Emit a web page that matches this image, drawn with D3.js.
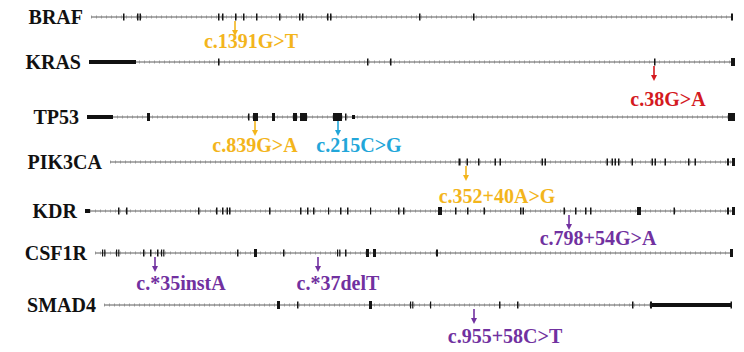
<!DOCTYPE html>
<html>
<head>
<meta charset="utf-8">
<script src="https://cdn.jsdelivr.net/npm/d3@7"></script>
<style>
  html, body { margin: 0; padding: 0; background: #fff; }
  svg { display: block; }
</style>
</head>
<body>
<div id="chart"></div>
<script>
// Gene structures on a shared track coordinate (0–650 units along each row).
const genes = ["BRAF", "KRAS", "TP53", "PIK3CA", "KDR", "CSF1R", "SMAD4"];

// intron backbone extent for each gene
const spans = {
  BRAF:   [6, 648],
  KRAS:   [4, 650],
  TP53:   [2, 650],
  PIK3CA: [25, 650],
  KDR:    [0, 648],
  CSF1R:  [10, 647],
  SMAD4:  [19, 647]
};

// coding exons [start, end]
const exons = {
  BRAF: [[38,39.5],[52,53.5],[54.5,56],[133,134.5],[137,138.5],[150,151.5],[158,159.5],
         [171,172.5],[194,195.5],[214,215.5],[217,218.5],[242,243.5],[245,246.5],
         [334,335.5],[388,389.5],[646,648]],
  KRAS: [[133,134.5],[282,283.5],[305,306.5],[569,570.5],[646,650]],
  TP53: [[62,65],[163,164.5],[168,173],[187,190],[208,212],[215,222],[248,257],
         [260,261.5],[643,650]],
  PIK3CA: [[373.5,375.5],[381.5,383],[393,394.5],[409.5,411],[414.5,416],[456.5,458],
           [459.5,461],[521.5,523],[526.5,528],[529.5,531],[533,534.5],[546.5,548],
           [566.5,568],[569.5,571],[579.5,581],[603,604.5],[609.5,611],[642,644],[647,650]],
  KDR: [[33,34.5],[41,42.5],[113,114.5],[131,132.5],[137,138.5],[141.5,143],[144,145.5],
        [184,185.5],[215,216.5],[222,223.5],[228,229.5],[243,244],[255,256.5],[262,263.5],
        [285,286],[313,314.5],[318,319.5],[353,357],[370,371.5],[382,383.5],[398.5,400],
        [435,436.5],[437.5,439],[478.5,480],[490,491.5],[500,501.5],[505,506.5],
        [552,556],[588.5,590],[642,644],[647,650]],
  CSF1R: [[17,18.2],[19.2,20.4],[31,32.2],[33.2,34.4],[58,59.5],[65,66.5],[72,73.5],
          [76,77.2],[78.2,79.4],[152,153.5],[169,172],[198,199.5],[252,253.2],
          [254.2,255.4],[260,261.5],[281,284],[288,291],[351,353],[645,648]],
  SMAD4: [[192,195],[212,213.5],[284,287],[325,326.2],[327.2,328.4],[345,346],
          [414,415.5],[432,433.5],[547,548.5],[565,567],[645.5,647]]
};

// untranslated regions drawn as thick bars [start, end]
const utrs = {
  BRAF: [], KRAS: [[4,51]], TP53: [[2,28],[267,270]], PIK3CA: [],
  KDR: [[0,5]], CSF1R: [], SMAD4: [[565,647]]
};

// detected variants
const mutGene  = ["BRAF", "KRAS", "TP53", "TP53", "PIK3CA", "KDR", "CSF1R", "CSF1R", "SMAD4"];
const mutPos   = [150, 569, 170, 253, 381, 484, 70, 233, 389];
const mutLabel = ["c.1391G>T", "c.38G>A", "c.839G>A", "c.215C>G", "c.352+40A>G",
                  "c.798+54G>A", "c.*35instA", "c.*37delT", "c.955+58C>T"];
const mutClass = ["gold", "red", "gold", "blue", "gold", "purple", "purple", "purple", "purple"];

// layout
const W = 744, H = 352;
const rowY = { BRAF: 17, KRAS: 62, TP53: 117, PIK3CA: 162, KDR: 211, CSF1R: 253, SMAD4: 305 };
const labelShift = [16, 14, 0, 21, 31, 29, 26, 20, 31];   // label centre relative to arrow
const labelDrop  = [31, 44, 35, 35, 41, 34, 37, 37, 38];  // baseline below backbone
const palette = { gold: "#f3b51c", red: "#d41a1f", blue: "#22a6d9", purple: "#7131a0" };

const x = d3.scaleLinear().domain([0, 650]).range([85, 735]);

const svg = d3.select("#chart").append("svg")
  .attr("width", W).attr("height", H)
  .style("font-family", "'Liberation Serif', 'Times New Roman', serif");

const rows = svg.selectAll("g.gene").data(genes).join("g")
  .attr("class", "gene")
  .attr("transform", g => `translate(0,${rowY[g]})`);

// gene names
rows.append("text")
  .attr("x", g => x(spans[g][0]) - 8)
  .attr("y", 6.5)
  .attr("text-anchor", "end")
  .attr("font-size", 20)
  .attr("font-weight", "bold")
  .attr("fill", "#111")
  .text(g => g);

// intron backbone with fine hatch
rows.append("line")
  .attr("x1", g => x(spans[g][0])).attr("x2", g => x(spans[g][1]))
  .attr("stroke", "#5a5a5a").attr("stroke-width", 1);
rows.append("line")
  .attr("x1", g => x(spans[g][0])).attr("x2", g => x(spans[g][1]))
  .attr("stroke", "#8a8a8a").attr("stroke-width", 3)
  .attr("stroke-dasharray", "0.8,4.2");

// thick untranslated bars
rows.selectAll("rect.utr").data(g => utrs[g]).join("rect")
  .attr("class", "utr")
  .attr("x", d => x(d[0])).attr("width", d => x(d[1]) - x(d[0]))
  .attr("y", -2).attr("height", 4)
  .attr("fill", "#111");

// exons
rows.selectAll("rect.exon").data(g => exons[g]).join("rect")
  .attr("class", "exon")
  .attr("x", d => x(d[0]))
  .attr("width", d => Math.max(x(d[1]) - x(d[0]), 1.2))
  .attr("y", d => (d[1] - d[0] > 2 ? -4 : -3.5))
  .attr("height", d => (d[1] - d[0] > 2 ? 8 : 7))
  .attr("fill", "#151515");

// variant arrows and labels
const muts = mutGene.map((g, i) => ({ gene: g, pos: mutPos[i], label: mutLabel[i],
  color: palette[mutClass[i]], shift: labelShift[i], drop: labelDrop[i] }));

const mg = svg.selectAll("g.mut").data(muts).join("g")
  .attr("class", "mut")
  .attr("transform", d => `translate(${x(d.pos)},${rowY[d.gene]})`);

mg.append("line")
  .attr("x1", 0).attr("x2", 0)
  .attr("y1", 4).attr("y2", 14)
  .attr("stroke", d => d.color).attr("stroke-width", 1.6);
mg.append("path")
  .attr("d", "M-3,13 L3,13 L0,19 Z")
  .attr("fill", d => d.color);

mg.append("text")
  .attr("x", d => d.shift)
  .attr("y", d => d.drop)
  .attr("text-anchor", "middle")
  .attr("font-size", 20)
  .attr("font-weight", "bold")
  .attr("fill", d => d.color)
  .text(d => d.label);
</script>
</body>
</html>
